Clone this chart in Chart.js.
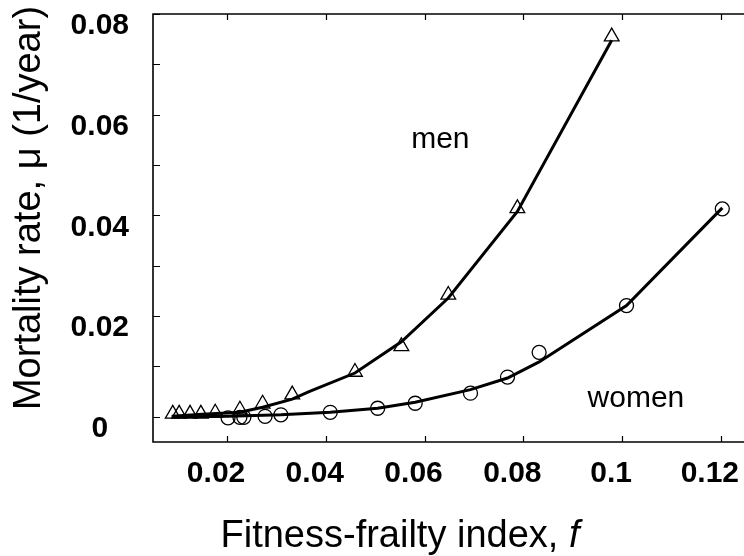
<!DOCTYPE html>
<html><head><meta charset="utf-8">
<script src="https://cdn.jsdelivr.net/npm/chart.js@4.4.1/dist/chart.umd.min.js"></script>
<style>
html,body{margin:0;padding:0;background:#fff;overflow:hidden;width:744px;height:556px}
#wrap{position:absolute;left:0;top:0;width:780px;height:556px}
</style>
</head><body><div id="wrap"><canvas id="c"></canvas></div>
<script>
const menF   = [0.0090,0.0103,0.0125,0.0147,0.0176,0.0226,0.0272,0.0332,0.0459,0.0553,0.0648,0.0788,0.0979];
const menMu  = [0.0006,0.0006,0.0006,0.0006,0.0008,0.0014,0.0026,0.0044,0.0089,0.0140,0.0242,0.0414,0.0755];
const womenF  = [0.0202,0.0226,0.0234,0.0277,0.0309,0.0409,0.0505,0.0581,0.0693,0.0768,0.0832,0.1009,0.1203];
const womenMu = [-0.0002,-0.0001,-0.0001,0.0001,0.0004,0.0009,0.0017,0.0027,0.0047,0.0079,0.0128,0.0221,0.0413];
// Fitted curves
const menFitF   = [0.0088,0.0150,0.0226,0.0272,0.0332,0.0366,0.0459,0.0553,0.0648,0.0788,0.0979];
const menFitMu  = [0.0001,0.0005,0.0009,0.0019,0.0035,0.0050,0.0087,0.0149,0.0236,0.0408,0.0748];
const womenFitF  = [0.0088,0.0202,0.0309,0.0409,0.0505,0.0581,0.0693,0.0768,0.0832,0.1009,0.1203];
const womenFitMu = [0.0000,0.0001,0.0004,0.0009,0.0017,0.0029,0.0054,0.0077,0.0109,0.0221,0.0415];
// Axes
const xTickValues = [0.02,0.04,0.06,0.08,0.1,0.12];
const xTickLabels = ['0.02','0.04','0.06','0.08','0.1','0.12'];
const yTickValues = [0,0.02,0.04,0.06,0.08];
const yTickLabels = ['0','0.02','0.04','0.06','0.08'];
const yMinorTicks = [0.01,0.03,0.05,0.07];
const xTitle = 'Fitness-frailty index, ';
const xTitleItalic = 'f';
const yTitle = 'Mortality rate, \u03bc (1/year)';
const seriesNames = ['men','women'];
const labelPos = {men:{f:0.0632,mu:0.0534}, women:{f:0.1028,mu:0.0020}};

const FONT = '"Liberation Sans", Arial, Helvetica, sans-serif';
const pts = (xs,ys)=>xs.map((v,i)=>({x:v,y:ys[i]}));

const decor = {
  id:'decor',
  afterDraw(chart){
    const {ctx, chartArea:a, scales:{x,y}} = chart;
    ctx.save();
    ctx.strokeStyle='#000';
    ctx.lineWidth=1.6;
    ctx.beginPath();
    ctx.moveTo(a.right+10,a.top); ctx.lineTo(a.left,a.top); ctx.lineTo(a.left,a.bottom); ctx.lineTo(a.right+10,a.bottom);
    ctx.stroke();
    ctx.lineWidth=1.2;
    ctx.beginPath();
    xTickValues.forEach(v=>{const px=Math.round(x.getPixelForValue(v))+0.5;
      ctx.moveTo(px,a.bottom); ctx.lineTo(px,a.bottom-6);
      ctx.moveTo(px,a.top); ctx.lineTo(px,a.top+6);});
    yTickValues.concat(yMinorTicks).forEach(v=>{const py=Math.round(y.getPixelForValue(v))+0.5;
      ctx.moveTo(a.left,py); ctx.lineTo(a.left+7,py);});
    ctx.stroke();
    ctx.fillStyle='#000';
    // x title
    ctx.textBaseline='alphabetic';
    ctx.font='38px '+FONT;
    const w1=ctx.measureText(xTitle).width;
    ctx.font='italic 38px '+FONT;
    const w2=ctx.measureText(xTitleItalic).width;
    const sx=400-(w1+w2)/2;
    ctx.textAlign='left';
    ctx.font='38px '+FONT; ctx.fillText(xTitle,sx,547);
    ctx.font='italic 38px '+FONT; ctx.fillText(xTitleItalic,sx+w1,547);
    // y title
    ctx.save();
    ctx.translate(40,208); ctx.rotate(-Math.PI/2);
    ctx.textAlign='center'; ctx.font='38px '+FONT;
    ctx.fillText(yTitle,0,0);
    ctx.restore();
    // series labels
    ctx.font='30px '+FONT; ctx.textAlign='center';
    seriesNames.forEach(n=>{
      ctx.fillText(n, x.getPixelForValue(labelPos[n].f), y.getPixelForValue(labelPos[n].mu));
    });
    ctx.restore();
  }
};

new Chart(document.getElementById('c'),{
  type:'scatter',
  data:{datasets:[
    {label:'men fit',data:pts(menFitF,menFitMu),showLine:true,pointRadius:0,borderColor:'#000',borderWidth:3,fill:false,tension:0},
    {label:'women fit',data:pts(womenFitF,womenFitMu),showLine:true,pointRadius:0,borderColor:'#000',borderWidth:3,fill:false,tension:0},
    {label:'men',data:pts(menF,menMu),showLine:false,pointStyle:'triangle',pointRadius:8.5,pointBorderWidth:1.3,borderColor:'#000',pointBackgroundColor:'rgba(0,0,0,0)'},
    {label:'women',data:pts(womenF,womenMu),showLine:false,pointStyle:'circle',pointRadius:7,pointBorderWidth:1.3,borderColor:'#000',pointBackgroundColor:'rgba(0,0,0,0)'}
  ]},
  options:{
    responsive:true,maintainAspectRatio:false,animation:false,devicePixelRatio:1,
    layout:{padding:{top:14,left:0,right:4,bottom:0}},
    plugins:{legend:{display:false},tooltip:{enabled:false}},
    scales:{
      x:{type:'linear',min:0.005,max:0.13,
        grid:{display:false},border:{display:false},
        afterBuildTicks:s=>{s.ticks=xTickValues.map(v=>({value:v}));},
        afterFit:s=>{s.height=114;s.paddingLeft=0;s.paddingRight=0;},
        ticks:{autoSkip:false,maxRotation:0,padding:6,labelOffset:-11,color:'#000',
          font:{family:FONT,size:30,weight:'bold'},
          callback:(v,i)=>xTickLabels[i]}},
      y:{type:'linear',min:-0.005,max:0.08,
        grid:{display:false},border:{display:false},
        afterBuildTicks:s=>{s.ticks=yTickValues.map(v=>({value:v}));},
        afterFit:s=>{s.width=153;s.paddingTop=0;s.paddingBottom=0;},
        ticks:{autoSkip:false,padding:16,crossAlign:'center',labelOffset:12,color:'#000',
          font:{family:FONT,size:30,weight:'bold'},
          callback:(v,i)=>yTickLabels[i]}}
    }
  },
  plugins:[decor]
});
</script>
</body></html>
